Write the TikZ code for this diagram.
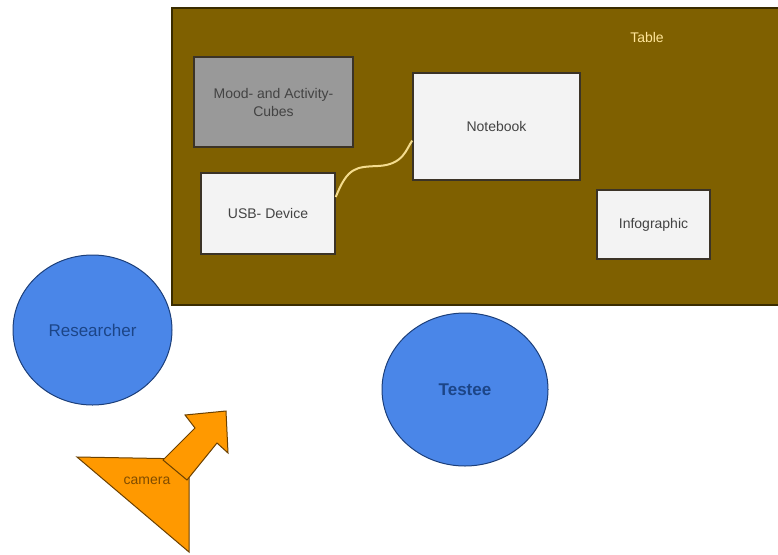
\documentclass[tikz,border=0pt]{standalone}
\usepackage{fontspec}
\setmainfont{Liberation Sans}
\usetikzlibrary{calc,shapes.geometric}
\definecolor{tablebrown}{HTML}{7F6000}
\definecolor{tableedge}{HTML}{3A2C00}
\definecolor{boxfill}{HTML}{F3F3F3}
\definecolor{boxedge}{HTML}{3B3326}
\definecolor{moodfill}{HTML}{999999}
\definecolor{textgray}{HTML}{434343}
\definecolor{persfill}{HTML}{4A86E8}
\definecolor{persedge}{HTML}{1C3F7A}
\definecolor{perstext}{HTML}{1C4587}
\definecolor{camfill}{HTML}{FF9900}
\definecolor{camedge}{HTML}{6B4000}
\definecolor{camtext}{HTML}{7F4C00}
\definecolor{tabletext}{HTML}{FFE599}
\definecolor{cable}{HTML}{F4DC8E}
\tikzset{
  x=1pt, y=-1pt,
  item/.style={draw=boxedge, line width=1.5pt, fill=boxfill, text=textgray,
    font=\fontsize{14}{18}\selectfont, align=center, inner sep=0pt},
  person/.style={ellipse, draw=persedge, line width=1pt, fill=persfill,
    text=perstext, font=\fontsize{17}{20}\selectfont, inner sep=0pt},
  camshape/.style={draw=camedge, line width=1pt, fill=camfill, line join=miter},
}
\begin{document}
\begin{tikzpicture}
\useasboundingbox (0,0) rectangle (778,554);
% table
\node[draw=tableedge, line width=1.5pt, fill=tablebrown, minimum width=610pt, minimum height=297pt, inner sep=0pt] (table) at (477,156.5) {};
\node[text=tabletext, font=\fontsize{14}{16}\selectfont] (tablelbl) at (647,37) {Table};
% items on the table
\node[item, fill=moodfill, minimum width=159pt, minimum height=90pt] (mood) at (273.5,102) {Mood- and Activity-\\Cubes};
\node[item, minimum width=167pt, minimum height=107pt] (nb) at (496.5,126.5) {Notebook};
\node[item, minimum width=134pt, minimum height=81pt] (usb) at (268,213.5) {USB- Device};
\node[item, minimum width=113pt, minimum height=69pt] (info) at (653.5,224.5) {Infographic};
% cable
\coordinate (cA) at ($(usb.north east)!0.3!(usb.south east)$);
\coordinate (cB) at ($(nb.north west)!0.63!(nb.south west)$);
\draw[cable, line width=2pt] (cA) .. controls ($(cA)+(12,-30)$) and ($(cA)+(20,-30)$) .. ($(cA)+(42,-31)$)
  .. controls ($(cA)+(68,-32)$) and ($(cB)+(-6,8)$) .. (cB);
% persons
\node[person, minimum width=159pt, minimum height=150pt] (res) at (92.5,330) {Researcher};
\node[person, font=\fontsize{17}{20}\selectfont\bfseries, minimum width=166pt, minimum height=153pt] (test) at (465,389.5) {Testee};
% camera
\draw[camshape] (77,457) -- (189,459) -- (189,552) -- cycle;
\draw[camshape] (163,460) -- (195,428) -- (185,415) -- (226,411) -- (228,453) -- (217,443) -- (187,480) -- cycle;
\node[text=camtext, font=\fontsize{14}{16}\selectfont] (camera) at (147,481) {camera};
\end{tikzpicture}
\end{document}
